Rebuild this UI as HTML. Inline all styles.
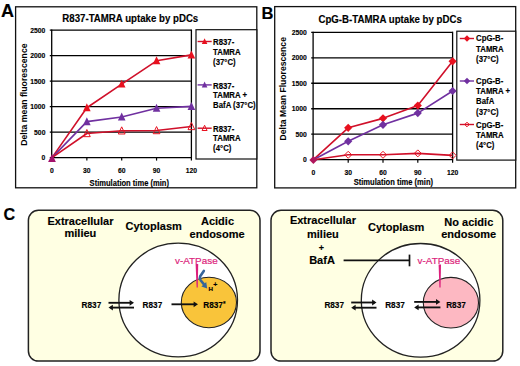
<!DOCTYPE html><html><head><meta charset="utf-8"><style>html,body{margin:0;padding:0;background:#fff;}svg{display:block;}</style></head><body>
<svg width="520" height="366" viewBox="0 0 520 366" font-family='"Liberation Sans", sans-serif'>
<rect width="520" height="366" fill="#fff"/>
<text x="0.90" y="16.80" font-size="18" font-weight="bold" text-anchor="start" fill="#000"  stroke="#000" stroke-width="0.15">A</text>
<text x="261.40" y="18.60" font-size="16.5" font-weight="bold" text-anchor="start" fill="#000"  stroke="#000" stroke-width="0.15">B</text>
<rect x="15.6" y="6.8" width="241.20000000000002" height="181.0" fill="none" stroke="#111" stroke-width="1.3"/>
<line x1="49.80" y1="157.60" x2="191.40" y2="157.60" stroke="#000" stroke-width="1.3" />
<text transform="translate(45.40,160.10) scale(0.85,1)" font-size="8.0" font-weight="bold" text-anchor="end" fill="#000"  stroke="#000" stroke-width="0.15">0</text>
<line x1="49.80" y1="132.10" x2="191.40" y2="132.10" stroke="#000" stroke-width="1.3" />
<text transform="translate(45.40,134.60) scale(0.85,1)" font-size="8.0" font-weight="bold" text-anchor="end" fill="#000"  stroke="#000" stroke-width="0.15">500</text>
<line x1="49.80" y1="106.60" x2="191.40" y2="106.60" stroke="#000" stroke-width="1.3" />
<text transform="translate(45.40,109.10) scale(0.85,1)" font-size="8.0" font-weight="bold" text-anchor="end" fill="#000"  stroke="#000" stroke-width="0.15">1000</text>
<line x1="49.80" y1="81.10" x2="191.40" y2="81.10" stroke="#000" stroke-width="1.3" />
<text transform="translate(45.40,83.60) scale(0.85,1)" font-size="8.0" font-weight="bold" text-anchor="end" fill="#000"  stroke="#000" stroke-width="0.15">1500</text>
<line x1="49.80" y1="55.60" x2="191.40" y2="55.60" stroke="#000" stroke-width="1.3" />
<text transform="translate(45.40,58.10) scale(0.85,1)" font-size="8.0" font-weight="bold" text-anchor="end" fill="#000"  stroke="#000" stroke-width="0.15">2000</text>
<line x1="49.80" y1="30.10" x2="191.40" y2="30.10" stroke="#000" stroke-width="1.3" />
<text transform="translate(45.40,32.60) scale(0.85,1)" font-size="8.0" font-weight="bold" text-anchor="end" fill="#000"  stroke="#000" stroke-width="0.15">2500</text>
<line x1="51.70" y1="29.50" x2="51.70" y2="158.20" stroke="#000" stroke-width="1.3" />
<line x1="191.40" y1="29.50" x2="191.40" y2="158.20" stroke="#000" stroke-width="1.3" />
<line x1="52.00" y1="157.60" x2="52.00" y2="160.60" stroke="#000" stroke-width="1.2" />
<text transform="translate(52.00,173.40) scale(0.85,1)" font-size="8.0" font-weight="bold" text-anchor="middle" fill="#000"  stroke="#000" stroke-width="0.15">0</text>
<line x1="86.85" y1="157.60" x2="86.85" y2="160.60" stroke="#000" stroke-width="1.2" />
<text transform="translate(86.85,173.40) scale(0.85,1)" font-size="8.0" font-weight="bold" text-anchor="middle" fill="#000"  stroke="#000" stroke-width="0.15">30</text>
<line x1="121.70" y1="157.60" x2="121.70" y2="160.60" stroke="#000" stroke-width="1.2" />
<text transform="translate(121.70,173.40) scale(0.85,1)" font-size="8.0" font-weight="bold" text-anchor="middle" fill="#000"  stroke="#000" stroke-width="0.15">60</text>
<line x1="156.55" y1="157.60" x2="156.55" y2="160.60" stroke="#000" stroke-width="1.2" />
<text transform="translate(156.55,173.40) scale(0.85,1)" font-size="8.0" font-weight="bold" text-anchor="middle" fill="#000"  stroke="#000" stroke-width="0.15">90</text>
<line x1="191.40" y1="157.60" x2="191.40" y2="160.60" stroke="#000" stroke-width="1.2" />
<text transform="translate(191.40,173.40) scale(0.85,1)" font-size="8.0" font-weight="bold" text-anchor="middle" fill="#000"  stroke="#000" stroke-width="0.15">120</text>
<text transform="translate(62.30,22.00) scale(0.94,1)" font-size="10.3" font-weight="bold" text-anchor="start" fill="#000"  stroke="#000" stroke-width="0.15">R837-TAMRA uptake by pDCs</text>
<text transform="translate(89.60,185.70) scale(0.87,1)" font-size="8.7" font-weight="bold" text-anchor="start" fill="#000"  stroke="#000" stroke-width="0.15">Stimulation time (min)</text>
<text transform="translate(27.1,145.8) rotate(-90)" font-size="8.7" font-weight="bold">Delta mean fluorescence</text>
<rect x="196.0" y="29.7" width="60.80000000000001" height="129.3" fill="#fff" stroke="#111" stroke-width="1.2"/>
<polyline points="52.00,157.60 86.85,107.72 121.70,84.11 156.55,60.80 191.40,54.89" fill="none" stroke="#d0102a" stroke-width="1.6" stroke-linejoin="round"/>
<polyline points="52.00,157.60 86.85,121.64 121.70,116.95 156.55,108.23 191.40,106.40" fill="none" stroke="#7030a0" stroke-width="1.6" stroke-linejoin="round"/>
<polyline points="52.00,157.60 86.85,133.53 121.70,130.82 156.55,130.57 191.40,126.49" fill="none" stroke="#d0102a" stroke-width="1.6" stroke-linejoin="round"/>
<polygon points="86.85,103.25 90.65,111.23 83.05,111.23" fill="#e8101e" />
<polygon points="121.70,79.64 125.50,87.62 117.90,87.62" fill="#e8101e" />
<polygon points="156.55,56.33 160.35,64.31 152.75,64.31" fill="#e8101e" />
<polygon points="191.40,50.42 195.20,58.40 187.60,58.40" fill="#e8101e" />
<polygon points="86.85,117.18 90.65,125.16 83.05,125.16" fill="#7030a0" />
<polygon points="121.70,112.48 125.50,120.46 117.90,120.46" fill="#7030a0" />
<polygon points="156.55,103.76 160.35,111.74 152.75,111.74" fill="#7030a0" />
<polygon points="191.40,101.93 195.20,109.91 187.60,109.91" fill="#7030a0" />
<polygon points="86.85,129.53 90.25,136.67 83.45,136.67" fill="none" stroke="#e8101e" stroke-width="1"/>
<polygon points="121.70,126.83 125.10,133.97 118.30,133.97" fill="none" stroke="#e8101e" stroke-width="1"/>
<polygon points="156.55,126.57 159.95,133.71 153.15,133.71" fill="none" stroke="#e8101e" stroke-width="1"/>
<polygon points="191.40,122.49 194.80,129.63 188.00,129.63" fill="none" stroke="#e8101e" stroke-width="1"/>
<polygon points="52.00,153.91 55.90,162.10 48.10,162.10" fill="#a3126c" />
<line x1="197.60" y1="41.50" x2="211.70" y2="41.50" stroke="#d0102a" stroke-width="1.4" />
<polygon points="204.60,38.21 207.40,44.09 201.80,44.09" fill="#e8101e" />
<text transform="translate(213.10,45.30) scale(0.95,1)" font-size="8.2" font-weight="bold" text-anchor="start" fill="#000"  stroke="#000" stroke-width="0.15">R837-</text>
<text transform="translate(213.10,55.05) scale(0.95,1)" font-size="8.2" font-weight="bold" text-anchor="start" fill="#000"  stroke="#000" stroke-width="0.15">TAMRA</text>
<text transform="translate(213.10,64.80) scale(0.95,1)" font-size="8.2" font-weight="bold" text-anchor="start" fill="#000"  stroke="#000" stroke-width="0.15">(37°C)</text>
<line x1="197.60" y1="84.90" x2="211.70" y2="84.90" stroke="#7030a0" stroke-width="1.4" />
<polygon points="204.60,81.61 207.40,87.49 201.80,87.49" fill="#7030a0" />
<text transform="translate(213.10,88.50) scale(0.95,1)" font-size="8.2" font-weight="bold" text-anchor="start" fill="#000"  stroke="#000" stroke-width="0.15">R837-</text>
<text transform="translate(213.10,98.25) scale(0.95,1)" font-size="8.2" font-weight="bold" text-anchor="start" fill="#000"  stroke="#000" stroke-width="0.15">TAMRA +</text>
<text transform="translate(213.10,108.00) scale(0.95,1)" font-size="8.2" font-weight="bold" text-anchor="start" fill="#000"  stroke="#000" stroke-width="0.15">BafA (37°C)</text>
<line x1="197.60" y1="128.20" x2="211.70" y2="128.20" stroke="#d0102a" stroke-width="1.4" />
<polygon points="204.60,125.26 207.10,130.51 202.10,130.51" fill="none" stroke="#e8101e" stroke-width="1"/>
<text transform="translate(213.10,131.60) scale(0.95,1)" font-size="8.2" font-weight="bold" text-anchor="start" fill="#000"  stroke="#000" stroke-width="0.15">R837-</text>
<text transform="translate(213.10,141.35) scale(0.95,1)" font-size="8.2" font-weight="bold" text-anchor="start" fill="#000"  stroke="#000" stroke-width="0.15">TAMRA</text>
<text transform="translate(213.10,151.10) scale(0.95,1)" font-size="8.2" font-weight="bold" text-anchor="start" fill="#000"  stroke="#000" stroke-width="0.15">(4°C)</text>
<rect x="274.7" y="6.6" width="241.00000000000006" height="181.3" fill="none" stroke="#111" stroke-width="1.3"/>
<line x1="311.20" y1="159.70" x2="452.60" y2="159.70" stroke="#000" stroke-width="1.3" />
<text transform="translate(306.80,162.20) scale(0.85,1)" font-size="8.0" font-weight="bold" text-anchor="end" fill="#000"  stroke="#000" stroke-width="0.15">0</text>
<line x1="311.20" y1="134.22" x2="452.60" y2="134.22" stroke="#000" stroke-width="1.3" />
<text transform="translate(306.80,136.72) scale(0.85,1)" font-size="8.0" font-weight="bold" text-anchor="end" fill="#000"  stroke="#000" stroke-width="0.15">500</text>
<line x1="311.20" y1="108.74" x2="452.60" y2="108.74" stroke="#000" stroke-width="1.3" />
<text transform="translate(306.80,111.24) scale(0.85,1)" font-size="8.0" font-weight="bold" text-anchor="end" fill="#000"  stroke="#000" stroke-width="0.15">1000</text>
<line x1="311.20" y1="83.26" x2="452.60" y2="83.26" stroke="#000" stroke-width="1.3" />
<text transform="translate(306.80,85.76) scale(0.85,1)" font-size="8.0" font-weight="bold" text-anchor="end" fill="#000"  stroke="#000" stroke-width="0.15">1500</text>
<line x1="311.20" y1="57.78" x2="452.60" y2="57.78" stroke="#000" stroke-width="1.3" />
<text transform="translate(306.80,60.28) scale(0.85,1)" font-size="8.0" font-weight="bold" text-anchor="end" fill="#000"  stroke="#000" stroke-width="0.15">2000</text>
<line x1="311.20" y1="32.30" x2="452.60" y2="32.30" stroke="#000" stroke-width="1.3" />
<text transform="translate(306.80,34.80) scale(0.85,1)" font-size="8.0" font-weight="bold" text-anchor="end" fill="#000"  stroke="#000" stroke-width="0.15">2500</text>
<line x1="313.10" y1="31.70" x2="313.10" y2="160.30" stroke="#000" stroke-width="1.3" />
<line x1="452.60" y1="31.70" x2="452.60" y2="160.30" stroke="#000" stroke-width="1.3" />
<line x1="313.40" y1="159.70" x2="313.40" y2="162.70" stroke="#000" stroke-width="1.2" />
<text transform="translate(313.40,175.20) scale(0.85,1)" font-size="8.0" font-weight="bold" text-anchor="middle" fill="#000"  stroke="#000" stroke-width="0.15">0</text>
<line x1="348.20" y1="159.70" x2="348.20" y2="162.70" stroke="#000" stroke-width="1.2" />
<text transform="translate(348.20,175.20) scale(0.85,1)" font-size="8.0" font-weight="bold" text-anchor="middle" fill="#000"  stroke="#000" stroke-width="0.15">30</text>
<line x1="383.00" y1="159.70" x2="383.00" y2="162.70" stroke="#000" stroke-width="1.2" />
<text transform="translate(383.00,175.20) scale(0.85,1)" font-size="8.0" font-weight="bold" text-anchor="middle" fill="#000"  stroke="#000" stroke-width="0.15">60</text>
<line x1="417.80" y1="159.70" x2="417.80" y2="162.70" stroke="#000" stroke-width="1.2" />
<text transform="translate(417.80,175.20) scale(0.85,1)" font-size="8.0" font-weight="bold" text-anchor="middle" fill="#000"  stroke="#000" stroke-width="0.15">90</text>
<line x1="452.60" y1="159.70" x2="452.60" y2="162.70" stroke="#000" stroke-width="1.2" />
<text transform="translate(452.60,175.20) scale(0.85,1)" font-size="8.0" font-weight="bold" text-anchor="middle" fill="#000"  stroke="#000" stroke-width="0.15">120</text>
<text transform="translate(318.40,23.00) scale(0.94,1)" font-size="10.3" font-weight="bold" text-anchor="start" fill="#000"  stroke="#000" stroke-width="0.15">CpG-B-TAMRA uptake by pDCs</text>
<text transform="translate(353.70,185.20) scale(0.87,1)" font-size="8.7" font-weight="bold" text-anchor="start" fill="#000"  stroke="#000" stroke-width="0.15">Stimulation time (min)</text>
<text transform="translate(285.6,140.4) rotate(-90)" font-size="8.62" font-weight="bold">Delta Mean Fluorescence</text>
<rect x="456.8" y="31.2" width="58.900000000000034" height="128.9" fill="#fff" stroke="#111" stroke-width="1.2"/>
<polyline points="313.40,159.70 348.20,127.85 383.00,118.37 417.80,105.53 452.60,61.30" fill="none" stroke="#d0102a" stroke-width="1.6" stroke-linejoin="round"/>
<polyline points="313.40,159.70 348.20,141.30 383.00,124.84 417.80,113.12 452.60,91.01" fill="none" stroke="#7030a0" stroke-width="1.6" stroke-linejoin="round"/>
<polyline points="313.40,159.70 348.20,154.81 383.00,154.81 417.80,153.38 452.60,155.37" fill="none" stroke="#d0102a" stroke-width="1.6" stroke-linejoin="round"/>
<polygon points="348.20,123.75 352.30,127.85 348.20,131.95 344.10,127.85" fill="#e8101e" />
<polygon points="383.00,114.27 387.10,118.37 383.00,122.47 378.90,118.37" fill="#e8101e" />
<polygon points="417.80,101.43 421.90,105.53 417.80,109.63 413.70,105.53" fill="#e8101e" />
<polygon points="452.60,57.20 456.70,61.30 452.60,65.40 448.50,61.30" fill="#e8101e" />
<polygon points="348.20,137.20 352.30,141.30 348.20,145.40 344.10,141.30" fill="#7030a0" />
<polygon points="383.00,120.74 387.10,124.84 383.00,128.94 378.90,124.84" fill="#7030a0" />
<polygon points="417.80,109.02 421.90,113.12 417.80,117.22 413.70,113.12" fill="#7030a0" />
<polygon points="452.60,86.91 456.70,91.01 452.60,95.11 448.50,91.01" fill="#7030a0" />
<polygon points="348.20,151.31 351.70,154.81 348.20,158.31 344.70,154.81" fill="none" stroke="#e8101e" stroke-width="1"/>
<polygon points="383.00,151.31 386.50,154.81 383.00,158.31 379.50,154.81" fill="none" stroke="#e8101e" stroke-width="1"/>
<polygon points="417.80,149.88 421.30,153.38 417.80,156.88 414.30,153.38" fill="none" stroke="#e8101e" stroke-width="1"/>
<polygon points="452.60,151.87 456.10,155.37 452.60,158.87 449.10,155.37" fill="none" stroke="#e8101e" stroke-width="1"/>
<polygon points="313.40,156.00 317.40,160.00 313.40,164.00 309.40,160.00" fill="#b0165c" />
<line x1="459.80" y1="38.50" x2="474.00" y2="38.50" stroke="#d0102a" stroke-width="1.4" />
<polygon points="467.00,35.30 470.20,38.50 467.00,41.70 463.80,38.50" fill="#e8101e" />
<text transform="translate(476.10,41.20) scale(0.95,1)" font-size="8.2" font-weight="bold" text-anchor="start" fill="#000"  stroke="#000" stroke-width="0.15">CpG-B-</text>
<text transform="translate(476.10,51.50) scale(0.95,1)" font-size="8.2" font-weight="bold" text-anchor="start" fill="#000"  stroke="#000" stroke-width="0.15">TAMRA</text>
<text transform="translate(476.10,61.80) scale(0.95,1)" font-size="8.2" font-weight="bold" text-anchor="start" fill="#000"  stroke="#000" stroke-width="0.15">(37°C)</text>
<line x1="459.80" y1="81.00" x2="474.00" y2="81.00" stroke="#7030a0" stroke-width="1.4" />
<polygon points="467.00,77.80 470.20,81.00 467.00,84.20 463.80,81.00" fill="#7030a0" />
<text transform="translate(476.10,83.70) scale(0.95,1)" font-size="8.2" font-weight="bold" text-anchor="start" fill="#000"  stroke="#000" stroke-width="0.15">CpG-B-</text>
<text transform="translate(476.10,94.00) scale(0.95,1)" font-size="8.2" font-weight="bold" text-anchor="start" fill="#000"  stroke="#000" stroke-width="0.15">TAMRA +</text>
<text transform="translate(476.10,104.30) scale(0.95,1)" font-size="8.2" font-weight="bold" text-anchor="start" fill="#000"  stroke="#000" stroke-width="0.15">BafA</text>
<text transform="translate(476.10,114.60) scale(0.95,1)" font-size="8.2" font-weight="bold" text-anchor="start" fill="#000"  stroke="#000" stroke-width="0.15">(37°C)</text>
<line x1="459.80" y1="124.50" x2="474.00" y2="124.50" stroke="#d0102a" stroke-width="1.4" />
<polygon points="467.00,122.20 469.30,124.50 467.00,126.80 464.70,124.50" fill="none" stroke="#e8101e" stroke-width="1"/>
<text transform="translate(476.10,127.70) scale(0.95,1)" font-size="8.2" font-weight="bold" text-anchor="start" fill="#000"  stroke="#000" stroke-width="0.15">CpG-B-</text>
<text transform="translate(476.10,138.00) scale(0.95,1)" font-size="8.2" font-weight="bold" text-anchor="start" fill="#000"  stroke="#000" stroke-width="0.15">TAMRA</text>
<text transform="translate(476.10,148.30) scale(0.95,1)" font-size="8.2" font-weight="bold" text-anchor="start" fill="#000"  stroke="#000" stroke-width="0.15">(4°C)</text>
<text x="3.40" y="219.60" font-size="16.2" font-weight="bold" text-anchor="start" fill="#000"  stroke="#000" stroke-width="0.15">C</text>
<rect x="28.4" y="210.3" width="231.6" height="150.8" rx="10" fill="#ffffe3" stroke="#222" stroke-width="1.5"/>
<rect x="271.0" y="210.3" width="231.8" height="150.8" rx="10" fill="#ffffe3" stroke="#222" stroke-width="1.5"/>
<text x="80.50" y="224.60" font-size="11" font-weight="bold" text-anchor="middle" fill="#000"  stroke="#000" stroke-width="0.15">Extracellular</text>
<text x="80.40" y="237.20" font-size="11" font-weight="bold" text-anchor="middle" fill="#000"  stroke="#000" stroke-width="0.15">milieu</text>
<text x="153.70" y="230.30" font-size="11" font-weight="bold" text-anchor="middle" fill="#000"  stroke="#000" stroke-width="0.15">Cytoplasm</text>
<text x="217.50" y="224.90" font-size="11" font-weight="bold" text-anchor="middle" fill="#000"  stroke="#000" stroke-width="0.15">Acidic</text>
<text x="217.10" y="238.00" font-size="11" font-weight="bold" text-anchor="middle" fill="#000"  stroke="#000" stroke-width="0.15">endosome</text>
<ellipse cx="178.2" cy="300" rx="59.3" ry="56.8" fill="#fff" stroke="#222" stroke-width="1.3"/>
<ellipse cx="208.9" cy="302.5" rx="27.6" ry="25.2" fill="#f9c43a" stroke="#222" stroke-width="1.1"/>
<text x="91.40" y="308.20" font-size="8.2" font-weight="bold" text-anchor="middle" fill="#000"  stroke="#000" stroke-width="0.15">R837</text>
<text x="152.40" y="308.20" font-size="8.2" font-weight="bold" text-anchor="middle" fill="#000"  stroke="#000" stroke-width="0.15">R837</text>
<text x="203.30" y="307.70" font-size="8.2" font-weight="bold" text-anchor="start" fill="#000"  stroke="#000" stroke-width="0.15">R837<tspan font-size="6.5" dy="-2.2">*</tspan></text>
<line x1="108.50" y1="302.80" x2="131.80" y2="302.80" stroke="#111" stroke-width="1.85" />
<polygon points="134.00,302.80 129.60,299.90 129.60,305.70" fill="#111"/>
<line x1="110.70" y1="307.60" x2="134.00" y2="307.60" stroke="#111" stroke-width="1.85" />
<polygon points="108.50,307.60 112.90,304.70 112.90,310.50" fill="#111"/>
<line x1="171.50" y1="304.30" x2="195.80" y2="304.30" stroke="#111" stroke-width="1.85" />
<polygon points="198.00,304.30 193.60,301.40 193.60,307.20" fill="#111"/>
<text x="175.00" y="263.50" font-size="9.9" font-weight="normal" text-anchor="start" fill="#dc1f7c"  stroke="#dc1f7c" stroke-width="0.2">v-ATPase</text>
<polygon points="195.6,264 198.2,264 197.8,287.6 196.6,287.6" fill="#dc1f7c"/>
<path d="M203.8,270.9 L200.2,276.2 Q199.2,278.2 200.6,280.2 L204.2,284.6" fill="none" stroke="#36659a" stroke-width="2.6" stroke-linecap="round" stroke-linejoin="round"/>
<polygon points="207.2,288.4 201.4,286.4 206.2,281.9" fill="#36659a"/>
<text x="208.60" y="291.30" font-size="6.2" font-weight="bold" text-anchor="start" fill="#000"  stroke="#000" stroke-width="0.15">H</text>
<text x="213.20" y="287.00" font-size="7.0" font-weight="bold" text-anchor="start" fill="#000"  stroke="#000" stroke-width="0.15">+</text>
<text x="322.90" y="224.40" font-size="11" font-weight="bold" text-anchor="middle" fill="#000"  stroke="#000" stroke-width="0.15">Extracellular</text>
<text x="322.90" y="237.50" font-size="11" font-weight="bold" text-anchor="middle" fill="#000"  stroke="#000" stroke-width="0.15">milieu</text>
<text x="321.40" y="251.00" font-size="9" font-weight="bold" text-anchor="middle" fill="#000"  stroke="#000" stroke-width="0.15">+</text>
<text x="322.00" y="264.00" font-size="11" font-weight="bold" text-anchor="middle" fill="#000"  stroke="#000" stroke-width="0.15">BafA</text>
<text x="396.20" y="230.70" font-size="11" font-weight="bold" text-anchor="middle" fill="#000"  stroke="#000" stroke-width="0.15">Cytoplasm</text>
<text x="468.80" y="225.70" font-size="11" font-weight="bold" text-anchor="middle" fill="#000"  stroke="#000" stroke-width="0.15">No acidic</text>
<text x="468.70" y="237.50" font-size="11" font-weight="bold" text-anchor="middle" fill="#000"  stroke="#000" stroke-width="0.15">endosome</text>
<ellipse cx="420.6" cy="300.3" rx="59.3" ry="56.8" fill="#fff" stroke="#222" stroke-width="1.3"/>
<ellipse cx="450.9" cy="302.7" rx="27.6" ry="25.3" fill="#fdb8c2" stroke="#222" stroke-width="1.1"/>
<text x="334.20" y="307.70" font-size="8.2" font-weight="bold" text-anchor="middle" fill="#000"  stroke="#000" stroke-width="0.15">R837</text>
<text x="395.00" y="307.70" font-size="8.2" font-weight="bold" text-anchor="middle" fill="#000"  stroke="#000" stroke-width="0.15">R837</text>
<text x="456.00" y="308.00" font-size="8.2" font-weight="bold" text-anchor="middle" fill="#000"  stroke="#000" stroke-width="0.15">R837</text>
<line x1="351.20" y1="302.50" x2="374.30" y2="302.50" stroke="#111" stroke-width="1.85" />
<polygon points="376.50,302.50 372.10,299.60 372.10,305.40" fill="#111"/>
<line x1="353.40" y1="307.70" x2="376.50" y2="307.70" stroke="#111" stroke-width="1.85" />
<polygon points="351.20,307.70 355.60,304.80 355.60,310.60" fill="#111"/>
<line x1="414.20" y1="301.90" x2="438.20" y2="301.90" stroke="#111" stroke-width="1.85" />
<polygon points="440.40,301.90 436.00,299.00 436.00,304.80" fill="#111"/>
<line x1="416.40" y1="307.40" x2="440.40" y2="307.40" stroke="#111" stroke-width="1.85" />
<polygon points="414.20,307.40 418.60,304.50 418.60,310.30" fill="#111"/>
<line x1="343.60" y1="260.40" x2="409.50" y2="260.40" stroke="#111" stroke-width="1.7" />
<line x1="409.50" y1="254.60" x2="409.50" y2="266.30" stroke="#111" stroke-width="1.7" />
<text x="417.60" y="263.90" font-size="9.9" font-weight="normal" text-anchor="start" fill="#dc1f7c"  stroke="#dc1f7c" stroke-width="0.2">v-ATPase</text>
<polygon points="438.6,264.5 441.0,264.5 440.6,287.4 439.4,287.4" fill="#dc1f7c"/>
</svg></body></html>
